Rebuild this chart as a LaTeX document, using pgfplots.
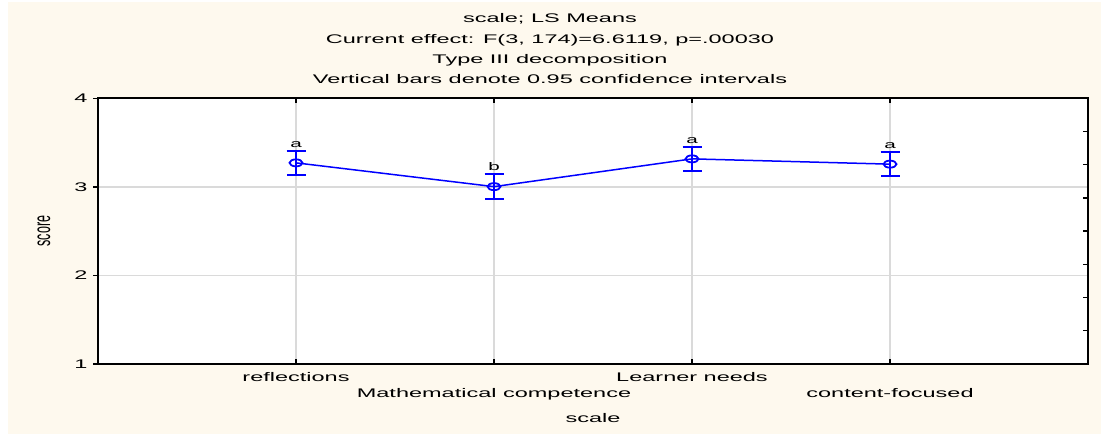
\documentclass[border=0pt]{standalone}
\usepackage{pgfplots}
\pgfplotsset{compat=1.18}
\usepackage{pgfplotstable}
\usepackage{graphicx}
\usepackage{fontspec}
\setmainfont{Liberation Sans}[FakeStretch=1.88]
\newfontfamily\plainfont{Liberation Sans}
\definecolor{bgcream}{RGB}{254,249,238}
\definecolor{gridgray}{RGB}{218,218,218}
\newcommand\cf{\fontsize{12.5bp}{15bp}\selectfont}
\newcommand\lf{\fontsize{11bp}{13bp}\selectfont}
\pgfplotstableread{
x y e
0 3.271 0.137
1 3.0025 0.1395
2 3.316 0.137
3 3.2565 0.1375
}\means
\pgfplotstableread{
x y lab
0 3.408 a
1 3.142 b
2 3.453 a
3 3.394 a
}\letters
\begin{document}
\begin{tikzpicture}[x=1bp,y=1bp]
\useasboundingbox (0,0) rectangle (1101,434);
\fill[white] (0,0) rectangle (1101,434);
\fill[bgcream] (8,0) rectangle (1101,432);
\node[anchor=base,font=\cf,inner sep=0] at (550,411) {scale; LS Means};
\node[anchor=base,font=\cf,inner sep=0] at (550,390) {Current effect: F(3, 174)=6.6119, p=.00030};
\node[anchor=base,font=\cf,inner sep=0] at (550,370) {Type III decomposition};
\node[anchor=base,font=\cf,inner sep=0] at (550,350) {Vertical bars denote 0.95 confidence intervals};
\begin{axis}[at={(98bp,70bp)}, anchor=south west, scale only axis,
  width=990bp, height=265.7bp,
  xmin=-1, xmax=4, ymin=1, ymax=4,
  axis background/.style={fill=white},
  xtick={0,1,2,3},
  xticklabels={reflections,\raisebox{-15.5bp}{Mathematical competence},Learner needs,\raisebox{-15.5bp}{content-focused}},
  ytick={1,2,3,4},
  ytick pos=left, ytick align=outside, xtick align=inside,
  major tick length=5bp,
  tick style={line width=1.3bp, black},
  axis line style={line width=1.8bp, black},
  xmajorgrids, ymajorgrids,
  x grid style={gridgray, line width=2bp},
  y grid style={gridgray, line width=1.4bp},
  /pgf/number format/assume math mode=true,
  every tick label/.append style={font=\cf},
  xticklabel style={anchor=base, yshift=-18bp, inner sep=0pt},
  yticklabel style={xshift=-2bp},
  xlabel={scale},
  xlabel style={at={(axis description cs:0.5,0)}, anchor=base, yshift=-59bp, font=\cf, inner sep=0pt},
  ylabel={\scalebox{1}[1.88]{\cf\plainfont score}},
  ylabel style={at={(axis description cs:-0.0545,0.5)}, anchor=center, inner sep=0pt},
]
\addplot[blue, line width=1.5bp, mark=o, mark size=3.5bp,
  mark options={xscale=1.85, line width=1.8bp, fill=none},
  error bars/.cd, y dir=both, y explicit,
  error bar style={line width=2.2bp, blue},
  error mark options={rotate=90, line width=2bp, mark size=9.5bp, blue}]
  table[x=x, y=y, y error=e]{\means};
\addplot[draw=none, mark=none, nodes near coords, point meta=explicit symbolic,
  nodes near coords style={anchor=base, yshift=3.5bp, font=\lf, text=black, inner sep=0pt}]
  table[x=x, y=y, meta=lab]{\letters};
\end{axis}
\begin{axis}[at={(98bp,70bp)}, anchor=south west, scale only axis,
  width=990bp, height=265.7bp,
  xmin=-1, xmax=4, ymin=1, ymax=4,
  hide x axis, y axis line style={draw=none},
  ytick={1.375,1.75,2.125,2.5,2.875,3.25,3.625}, yticklabels={},
  ytick pos=right, ytick align=inside,
  major tick length=5bp, tick style={line width=1.3bp, black}]
\addplot[draw=none] coordinates {(0,2)};
\end{axis}
\end{tikzpicture}
\end{document}
